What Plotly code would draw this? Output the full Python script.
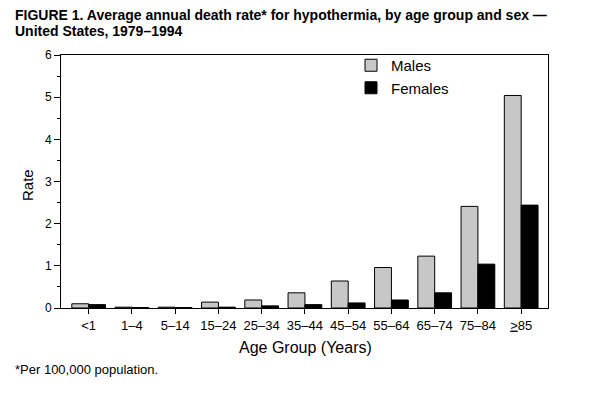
import plotly.graph_objects as go

categories = ["<1", "1–4", "5–14", "15–24", "25–34", "35–44", "45–54", "55–64", "65–74", "75–84", "≥85"]
tick_labels = ["<1", "1–4", "5–14", "15–24", "25–34", "35–44", "45–54", "55–64", "65–74", "75–84", "<u>></u>85"]
males = [0.10, 0.02, 0.02, 0.14, 0.19, 0.36, 0.64, 0.96, 1.23, 2.41, 5.04]
females = [0.08, 0.01, 0.01, 0.02, 0.05, 0.08, 0.12, 0.19, 0.36, 1.04, 2.44]

FONT = "Liberation Sans, Arial, Helvetica, sans-serif"

# page is offset by the 8px body margin
OFF = 8
W, H = 612, 394
L, T = 61 - OFF, 55 - OFF
R = W - (548 - OFF)
B = H - (308 - OFF)
pw = W - L - R
ph = H - T - B

def px(x):
    return (x - OFF - L) / pw

def py(y):
    return (H - B - (y - OFF)) / ph

xs = list(range(len(categories)))

fig = go.Figure()
fig.add_trace(go.Bar(
    x=xs, y=males, name="Males",
    marker=dict(color="white", line=dict(color="black", width=1),
                pattern=dict(shape=".", fgcolor="black", bgcolor="white", size=2, solidity=0.5)),
))
fig.add_trace(go.Bar(
    x=xs, y=females, name="Females",
    marker=dict(color="black", line=dict(color="black", width=1)),
))

fig.update_layout(
    width=W, height=H,
    margin=dict(l=L, r=R, t=T, b=B, pad=0),
    paper_bgcolor="white", plot_bgcolor="white",
    barmode="group", bargap=0.22, bargroupgap=0,
    font=dict(family=FONT, size=12, color="black"),
    showlegend=True,
    legend=dict(x=px(351), y=py(49), xanchor="left", yanchor="top",
                bgcolor="rgba(0,0,0,0)", font=dict(size=15, family=FONT),
                itemwidth=30, tracegroupgap=0),
    xaxis=dict(
        range=[-0.64, 10.62], tickmode="array", tickvals=xs, ticktext=tick_labels,
        showline=True, linecolor="black", linewidth=1, mirror=True,
        ticks="outside", ticklen=5, tickcolor="black", showgrid=False, zeroline=False,
        tickfont=dict(size=13, family=FONT),
    ),
    yaxis=dict(
        range=[0, 6], tickmode="array", tickvals=[0, 1, 2, 3, 4, 5, 6],
        showline=True, linecolor="black", linewidth=1, mirror=True,
        ticks="outside", ticklen=6, tickcolor="black", showgrid=False, zeroline=False,
        tickfont=dict(size=12, family=FONT),
        minor=dict(tickvals=[0.5, 1.5, 2.5, 3.5, 4.5, 5.5], ticks="outside", ticklen=3, tickcolor="black"),
    ),
)

fig.add_annotation(
    xref="paper", yref="paper", x=px(13), y=py(15), xanchor="left", yanchor="middle",
    align="left", showarrow=False,
    text="<b>FIGURE 1. Average annual death rate* for hypothermia, by age group and sex —</b>",
    font=dict(size=14, family=FONT),
)
fig.add_annotation(
    xref="paper", yref="paper", x=px(13), y=py(31), xanchor="left", yanchor="middle",
    align="left", showarrow=False,
    text="<b>United States, 1979–1994</b>",
    font=dict(size=14, family=FONT),
)
fig.add_annotation(
    xref="paper", yref="paper", x=px(13), y=py(369), xanchor="left", yanchor="middle",
    showarrow=False, text="*Per 100,000 population.", font=dict(size=13, family=FONT),
)
fig.add_annotation(
    xref="paper", yref="paper", x=px(305), y=py(347), xanchor="center", yanchor="middle",
    showarrow=False, text="Age Group (Years)", font=dict(size=16, family=FONT),
)
fig.add_annotation(
    xref="paper", yref="paper", x=px(28), y=py(185), xanchor="center", yanchor="middle",
    showarrow=False, text="Rate", textangle=-90, font=dict(size=15, family=FONT),
)

fig.write_html("out.html")
